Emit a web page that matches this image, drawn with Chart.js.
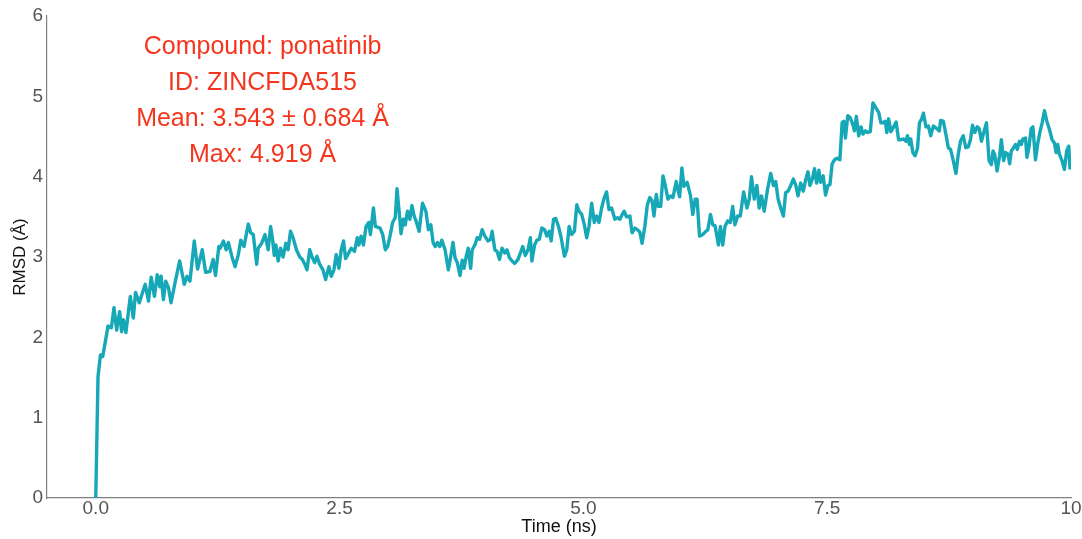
<!DOCTYPE html>
<html>
<head>
<meta charset="utf-8">
<style>
  html, body { margin: 0; padding: 0; background: #ffffff; }
  #wrap { width: 1082px; height: 539px; }
</style>
<script src="https://cdn.jsdelivr.net/npm/chart.js@4/dist/chart.umd.min.js"></script>
</head>
<body>
<div id="wrap"><canvas id="rmsd" width="1082" height="539"></canvas></div>
<script>
// Simulation time (ns) and ligand RMSD (Å)
const times = [
  0.000, 0.023, 0.048, 0.071, 0.126, 0.160, 0.187, 0.214, 0.245, 0.265, 0.283, 0.309, 0.354, 0.385, 0.408, 0.446,
  0.507, 0.541, 0.568, 0.602, 0.630, 0.656, 0.670, 0.694, 0.717, 0.745, 0.772, 0.813, 0.860, 0.908, 0.936, 0.966,
  1.010, 1.044, 1.092, 1.126, 1.170, 1.204, 1.228, 1.262, 1.276, 1.309, 1.337, 1.360, 1.395, 1.429, 1.462, 1.487,
  1.520, 1.564, 1.589, 1.615, 1.650, 1.666, 1.701, 1.735, 1.768, 1.793, 1.813, 1.830, 1.847, 1.870, 1.895, 1.921,
  1.949, 1.972, 1.997, 2.023, 2.058, 2.092, 2.119, 2.143, 2.166, 2.194, 2.221, 2.245, 2.268, 2.296, 2.330, 2.357,
  2.391, 2.415, 2.442, 2.466, 2.493, 2.517, 2.541, 2.561, 2.585, 2.619, 2.653, 2.681, 2.697, 2.721, 2.745, 2.772,
  2.799, 2.816, 2.847, 2.867, 2.915, 2.942, 2.969, 2.993, 3.017, 3.044, 3.071, 3.089, 3.112, 3.130, 3.153, 3.173,
  3.197, 3.221, 3.242, 3.265, 3.289, 3.316, 3.350, 3.385, 3.411, 3.436, 3.459, 3.480, 3.503, 3.528, 3.548, 3.582,
  3.615, 3.640, 3.663, 3.684, 3.707, 3.735, 3.758, 3.776, 3.799, 3.819, 3.844, 3.860, 3.888, 3.911, 3.936, 3.962,
  3.990, 4.023, 4.048, 4.064, 4.092, 4.115, 4.140, 4.166, 4.194, 4.217, 4.242, 4.268, 4.296, 4.330, 4.354, 4.378,
  4.405, 4.432, 4.456, 4.472, 4.500, 4.523, 4.548, 4.574, 4.602, 4.626, 4.650, 4.670, 4.694, 4.717, 4.745, 4.772,
  4.806, 4.830, 4.854, 4.881, 4.908, 4.932, 4.956, 4.983, 5.010, 5.034, 5.058, 5.085, 5.112, 5.136, 5.160, 5.187,
  5.214, 5.238, 5.262, 5.289, 5.323, 5.350, 5.374, 5.398, 5.418, 5.442, 5.477, 5.500, 5.528, 5.554, 5.579, 5.602,
  5.630, 5.656, 5.681, 5.704, 5.724, 5.748, 5.765, 5.793, 5.816, 5.840, 5.867, 5.895, 5.918, 5.952, 5.969, 5.987,
  6.010, 6.031, 6.064, 6.099, 6.122, 6.146, 6.166, 6.191, 6.224, 6.248, 6.276, 6.303, 6.327, 6.350, 6.385, 6.405,
  6.429, 6.452, 6.480, 6.507, 6.531, 6.554, 6.582, 6.609, 6.643, 6.677, 6.701, 6.724, 6.752, 6.779, 6.803, 6.827,
  6.854, 6.888, 6.921, 6.949, 6.972, 6.997, 7.023, 7.051, 7.074, 7.099, 7.126, 7.153, 7.176, 7.201, 7.228, 7.255,
  7.279, 7.303, 7.323, 7.347, 7.370, 7.391, 7.415, 7.432, 7.459, 7.483, 7.507, 7.528, 7.551, 7.575, 7.602, 7.630,
  7.653, 7.670, 7.687, 7.711, 7.738, 7.765, 7.779, 7.799, 7.823, 7.847, 7.867, 7.891, 7.915, 7.942, 7.969, 7.993,
  8.028, 8.051, 8.071, 8.095, 8.112, 8.130, 8.153, 8.181, 8.207, 8.232, 8.255, 8.283, 8.309, 8.323, 8.344, 8.357,
  8.378, 8.401, 8.426, 8.446, 8.469, 8.487, 8.513, 8.538, 8.561, 8.589, 8.622, 8.650, 8.663, 8.691, 8.717, 8.742,
  8.765, 8.793, 8.820, 8.844, 8.867, 8.895, 8.921, 8.946, 8.969, 8.990, 9.013, 9.038, 9.058, 9.082, 9.105, 9.133,
  9.160, 9.184, 9.201, 9.217, 9.242, 9.268, 9.286, 9.309, 9.330, 9.354, 9.371, 9.388, 9.411, 9.432, 9.449, 9.472,
  9.490, 9.507, 9.534, 9.548, 9.568, 9.592, 9.609, 9.636, 9.660, 9.684, 9.704, 9.728, 9.752, 9.779, 9.806, 9.830,
  9.847, 9.864, 9.881, 9.908, 9.932, 9.956, 9.977, 9.990
];

const rmsd = [
  0.00, 1.51, 1.78, 1.76, 2.14, 2.12, 2.37, 2.09, 2.32, 2.07, 2.22, 2.06, 2.51, 2.24, 2.56, 2.43,
  2.66, 2.45, 2.75, 2.51, 2.78, 2.63, 2.76, 2.47, 2.70, 2.62, 2.43, 2.68, 2.95, 2.66, 2.76, 2.70,
  3.20, 2.85, 3.09, 2.81, 2.82, 2.97, 2.77, 3.13, 3.11, 3.20, 3.09, 3.18, 3.01, 2.88, 3.03, 3.21,
  3.13, 3.41, 3.30, 3.28, 2.91, 3.11, 3.17, 3.28, 3.09, 3.38, 3.22, 3.02, 3.15, 2.95, 3.11, 3.00,
  3.17, 3.09, 3.32, 3.24, 3.09, 3.00, 2.97, 2.91, 2.84, 3.09, 2.99, 2.93, 3.01, 2.91, 2.84, 2.72,
  2.88, 2.76, 2.84, 3.03, 2.86, 3.09, 3.20, 2.98, 3.03, 3.11, 3.07, 3.24, 3.15, 3.26, 3.15, 3.38,
  3.43, 3.28, 3.61, 3.38, 3.36, 3.28, 3.09, 3.13, 3.26, 3.43, 3.49, 3.85, 3.55, 3.29, 3.47, 3.40,
  3.57, 3.47, 3.64, 3.51, 3.43, 3.32, 3.67, 3.57, 3.34, 3.40, 3.18, 3.13, 3.18, 3.13, 3.21, 3.09,
  2.84, 3.01, 3.18, 2.99, 2.93, 2.77, 2.96, 2.86, 3.01, 3.11, 2.86, 3.09, 3.15, 3.24, 3.22, 3.34,
  3.26, 3.20, 3.22, 3.32, 3.09, 3.07, 2.97, 3.11, 3.05, 3.09, 2.99, 2.95, 2.92, 2.97, 3.05, 3.13,
  3.02, 3.09, 3.24, 2.95, 3.15, 3.21, 3.22, 3.36, 3.34, 3.26, 3.32, 3.20, 3.47, 3.48, 3.38, 3.24,
  3.01, 3.09, 3.38, 3.28, 3.32, 3.65, 3.57, 3.53, 3.40, 3.24, 3.38, 3.67, 3.43, 3.51, 3.43, 3.61,
  3.74, 3.81, 3.59, 3.61, 3.47, 3.49, 3.47, 3.53, 3.57, 3.50, 3.51, 3.30, 3.36, 3.34, 3.31, 3.17,
  3.38, 3.65, 3.74, 3.70, 3.51, 3.78, 3.63, 3.63, 4.01, 3.89, 3.72, 3.76, 3.74, 3.94, 3.84, 3.75,
  4.11, 3.88, 3.93, 3.76, 3.53, 3.72, 3.72, 3.26, 3.28, 3.31, 3.34, 3.53, 3.40, 3.39, 3.15, 3.38,
  3.15, 3.38, 3.45, 3.43, 3.63, 3.40, 3.51, 3.51, 3.81, 3.61, 3.72, 4.00, 3.72, 3.89, 3.61, 3.76,
  3.57, 3.84, 4.04, 3.89, 3.94, 3.72, 3.61, 3.51, 3.80, 3.82, 3.89, 3.97, 3.90, 3.76, 3.92, 3.82,
  3.96, 4.06, 3.89, 3.97, 4.10, 3.92, 4.08, 3.93, 4.01, 3.77, 3.89, 3.90, 4.16, 4.21, 4.23, 4.21,
  4.67, 4.69, 4.48, 4.76, 4.73, 4.64, 4.57, 4.75, 4.51, 4.62, 4.53, 4.57, 4.55, 4.56, 4.919, 4.87,
  4.80, 4.67, 4.67, 4.69, 4.55, 4.72, 4.56, 4.62, 4.68, 4.46, 4.46, 4.47, 4.44, 4.51, 4.40, 4.47,
  4.30, 4.26, 4.35, 4.67, 4.72, 4.79, 4.62, 4.63, 4.51, 4.63, 4.60, 4.57, 4.70, 4.69, 4.53, 4.36,
  4.34, 4.20, 4.04, 4.28, 4.44, 4.51, 4.36, 4.37, 4.46, 4.64, 4.55, 4.62, 4.60, 4.44, 4.55, 4.67,
  4.20, 4.15, 4.32, 4.28, 4.07, 4.26, 4.46, 4.20, 4.30, 4.28, 4.16, 4.32, 4.36, 4.40, 4.34, 4.44,
  4.40, 4.47, 4.48, 4.24, 4.36, 4.60, 4.62, 4.21, 4.42, 4.57, 4.67, 4.82, 4.69, 4.59, 4.46, 4.42,
  4.30, 4.40, 4.28, 4.20, 4.09, 4.32, 4.38, 4.09
];

// Axis ticks
const xTickValues = [0, 2.5, 5, 7.5, 10];
const xTickLabels = ['0.0', '2.5', '5.0', '7.5', '10'];
const yTickValues = [0, 1, 2, 3, 4, 5, 6];

// Summary lines shown in the upper-left of the plot
const infoLines = [
  'Compound: ponatinib',
  'ID: ZINCFDA515',
  'Mean: 3.543 \u00b1 0.684 \u00c5',
  'Max: 4.919 \u00c5'
];

const points = times.map((t, i) => ({ x: t, y: rmsd[i] }));

const FONT = '"Liberation Sans", Arial, sans-serif';

const infoText = {
  id: 'infoText',
  afterDatasetsDraw(chart) {
    const { ctx, scales } = chart;
    const cx = scales.x.getPixelForValue(1.71);
    const top = scales.y.getPixelForValue(5.65) + 3;
    ctx.save();
    ctx.fillStyle = '#f4361e';
    ctx.font = '25px ' + FONT;
    ctx.textAlign = 'center';
    ctx.textBaseline = 'middle';
    infoLines.forEach((line, i) => {
      ctx.fillText(line, cx, top + i * 36);
    });
    ctx.restore();
  }
};

new Chart(document.getElementById('rmsd'), {
  type: 'line',
  data: {
    datasets: [{
      data: points,
      borderColor: '#17a8b8',
      borderWidth: 3.4,
      pointRadius: 0,
      tension: 0,
      fill: false,
      borderJoinStyle: 'round'
    }]
  },
  options: {
    responsive: false,
    animation: false,
    layout: { padding: { top: 16, right: 11, left: 0, bottom: 0 } },
    plugins: { legend: { display: false }, tooltip: { enabled: false } },
    scales: {
      x: {
        type: 'linear',
        min: -0.5,
        max: 10,
        afterBuildTicks(scale) { scale.ticks = xTickValues.map(v => ({ value: v })); },
        afterFit(scale) {
          scale.height = 41;
          scale.paddingLeft = 0;
          scale.paddingRight = 0;
        },
        grid: { display: false, drawTicks: true, tickLength: 3, tickColor: '#808080' },
        border: { display: true, color: '#808080', width: 1.2 },
        ticks: {
          color: '#555555',
          font: { family: FONT, size: 19 },
          padding: -4,
          maxRotation: 0,
          autoSkip: false,
          callback: (v) => { const i = xTickValues.indexOf(v); return i >= 0 ? xTickLabels[i] : ''; }
        },
        title: {
          display: true,
          text: 'Time (ns)',
          color: '#111111',
          font: { family: FONT, size: 18 },
          padding: { top: 0, bottom: 1 }
        }
      },
      y: {
        min: 0,
        max: 6,
        afterBuildTicks(scale) { scale.ticks = yTickValues.map(v => ({ value: v })); },
        afterFit(scale) {
          scale.width = 47;
          scale.paddingTop = 0;
          scale.paddingBottom = 0;
        },
        grid: { display: false, drawTicks: true, tickLength: 3, tickColor: '#808080' },
        border: { display: true, color: '#808080', width: 1.2 },
        ticks: {
          color: '#555555',
          font: { family: FONT, size: 19 },
          padding: 1
        },
        title: {
          display: true,
          text: 'RMSD (\u00c5)',
          color: '#111111',
          font: { family: FONT, size: 17 },
          padding: { top: 10, bottom: 2 }
        }
      }
    }
  },
  plugins: [infoText]
});
</script>
</body>
</html>
